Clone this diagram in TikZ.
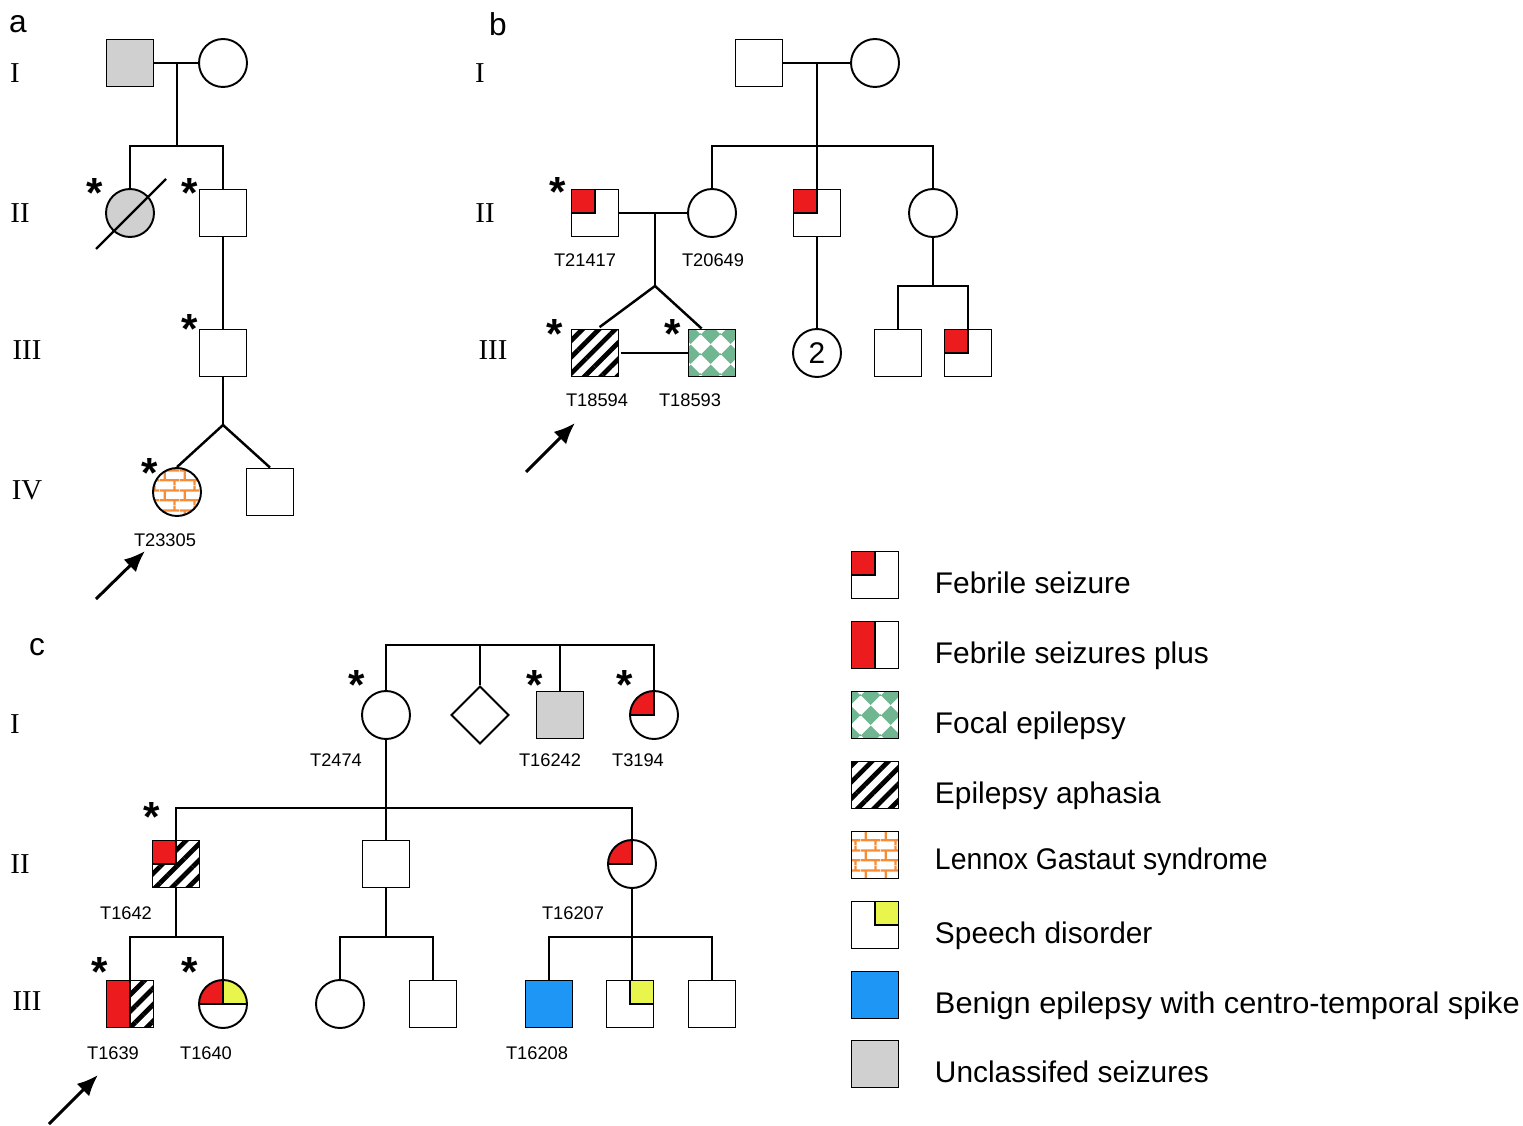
\documentclass[tikz,border=0pt]{standalone}
\usepackage{amsmath}
\usepackage{fontspec}
\setmainfont{Liberation Sans}
\newfontfamily\genfont{Liberation Serif}
\usetikzlibrary{arrows.meta,patterns,patterns.meta,shapes.geometric,calc}

\definecolor{fsred}{RGB}{236,28,30}
\definecolor{uncgrey}{RGB}{208,208,208}
\definecolor{becblue}{RGB}{30,150,245}
\definecolor{spyellow}{RGB}{232,245,76}
\definecolor{lgorange}{RGB}{247,140,55}
\definecolor{fegreen}{RGB}{112,182,144}

% orange brick wall (Lennox Gastaut)
\pgfdeclarepatternformonly{brickwall}{\pgfqpoint{0pt}{0pt}}{\pgfqpoint{11.4pt}{11.4pt}}{\pgfqpoint{11.4pt}{11.4pt}}{
  \pgfsetlinewidth{1.3pt}
  \pgfpathmoveto{\pgfqpoint{0pt}{2.85pt}}\pgfpathlineto{\pgfqpoint{11.4pt}{2.85pt}}
  \pgfpathmoveto{\pgfqpoint{0pt}{8.55pt}}\pgfpathlineto{\pgfqpoint{11.4pt}{8.55pt}}
  \pgfpathmoveto{\pgfqpoint{2.85pt}{2.85pt}}\pgfpathlineto{\pgfqpoint{2.85pt}{8.55pt}}
  \pgfpathmoveto{\pgfqpoint{8.55pt}{8.55pt}}\pgfpathlineto{\pgfqpoint{8.55pt}{11.4pt}}
  \pgfpathmoveto{\pgfqpoint{8.55pt}{0pt}}\pgfpathlineto{\pgfqpoint{8.55pt}{2.85pt}}
  \pgfusepath{stroke}
}
% green diamonds (focal epilepsy)
\pgfdeclarepatterninherentlycolored{diamondcheck}{\pgfpointorigin}{\pgfqpoint{11.4pt}{11.4pt}}{\pgfqpoint{11.4pt}{11.4pt}}{
  \pgfsetfillcolor{fegreen}
  \pgfpathmoveto{\pgfqpoint{5.7pt}{0pt}}
  \pgfpathlineto{\pgfqpoint{11.4pt}{5.7pt}}
  \pgfpathlineto{\pgfqpoint{5.7pt}{11.4pt}}
  \pgfpathlineto{\pgfqpoint{0pt}{5.7pt}}
  \pgfpathclose
  \pgfusepath{fill}
}

\tikzset{
  ped/.style={draw,line width=1.1pt,inner sep=0pt,fill=white},
  male/.style={ped,rectangle,minimum size=0.94cm},
  female/.style={ped,circle,minimum size=0.96cm},
  unknown/.style={ped,diamond,aspect=1,minimum width=1.16cm,minimum height=1.16cm},
  hatch/.style={pattern={Lines[angle=45,distance=6.6pt,line width=2.7pt]}},
  bricks/.style={pattern=brickwall,pattern color=lgorange},
  focal/.style={pattern=diamondcheck},
  fsq/.style={path picture={\draw[fill=fsred,line width=1.1pt] (path picture bounding box.north west) rectangle (path picture bounding box.center);}},
  fsp/.style={path picture={\draw[fill=fsred,line width=1.1pt] (path picture bounding box.north west) rectangle (path picture bounding box.south);}},
  spq/.style={path picture={\draw[fill=spyellow,line width=1.1pt] (path picture bounding box.north east) rectangle (path picture bounding box.center);}},
  fssp/.style={path picture={\draw[fill=fsred,line width=1.1pt] (path picture bounding box.north west) rectangle (path picture bounding box.center);
    \draw[fill=spyellow,line width=1.1pt] (path picture bounding box.north east) rectangle (path picture bounding box.center);}},
  tested/.style={inner sep=0pt,anchor=base,font=\bfseries\fontsize{24}{24}\selectfont},
  idlabel/.style={inner sep=0pt,font=\fontsize{10.4}{12}\selectfont},
  gen/.style={inner sep=0pt,font=\genfont\fontsize{16.4}{18}\selectfont},
  panel/.style={inner sep=0pt,font=\fontsize{18}{20}\selectfont},
  legtext/.style={inner sep=0pt,anchor=base west,font=\fontsize{17}{20}\selectfont},
  proband/.style={line width=1.7pt,-{Latex[length=12pt,width=10pt]}},
}

\begin{document}
\begin{tikzpicture}[x=0.02cm,y=-0.02cm,line width=1.1pt]
\useasboundingbox (0,0) rectangle (1523,1125);

%% panel a
\node[panel] (pa) at (18,24) {a};
\node[gen] (ga1) at (15,73) {I};
\node[gen] (ga2) at (20,213) {II};
\node[gen] (ga3) at (27,350) {III};
\node[gen] (ga4) at (27,490) {IV};

\node[male,fill=uncgrey] (a1) at (130,63) {};
\node[female] (a2) at (223,63) {};
\coordinate (a12) at (177,63);
\coordinate (a12s) at (177,146);
\draw (a1) -- (a2);
\draw (a12) -- (a12s);

\node[female,fill=uncgrey] (a3) at (130,213) {};
\draw[line width=1.3pt] ($(a3)+(-34,36)$) -- ($(a3)+(36,-34)$);
\node[male] (a4) at (223,213) {};
\draw (a3.north) |- (a12s) -| (a4.north);

\node[male] (a5) at (223,353) {};
\draw (a4) -- (a5);
\coordinate (a5t) at (223,425);
\draw (a5) -- (a5t);
\node[female,bricks] (a6) at (177,492) {};
\node[male] (a7) at (270,492) {};
\draw[line width=1.4pt] (a6.north) -- (a5t) -- (a7.north);

\node[tested] (sa3) at (95,208) {*};
\node[tested] (sa4) at (190,208) {*};
\node[tested] (sa5) at (190,343) {*};
\node[tested] (sa6) at (150,487) {*};
\node[idlabel] (la6) at (165,540) {T23305};
\coordinate (pra0) at (96,599);
\coordinate (pra1) at (145,551);
\draw[proband] (pra0) -- (pra1);

%% panel b
\node[panel] (pb) at (498,24) {b};
\node[gen] (gb1) at (480,73) {I};
\node[gen] (gb2) at (485,213) {II};
\node[gen] (gb3) at (493,350) {III};

\node[male] (b1) at (759,63) {};
\node[female] (b2) at (875,63) {};
\coordinate (b12) at (817,63);
\coordinate (b12s) at (817,146);
\draw (b1) -- (b2);

\node[male,fsq] (b3) at (595,213) {};
\node[female] (b4) at (712,213) {};
\node[male,fsq] (b7) at (817,213) {};
\node[female] (b8) at (933,213) {};
\draw (b12) -- (b7);
\draw (b4.north) |- (b12s) -| (b8.north);

\draw (b3) -- (b4);
\coordinate (b34) at (655,213);
\coordinate (b34t) at (655,286);
\draw (b34) -- (b34t);
\node[male,hatch] (b5) at (595,353) {};
\node[male,focal] (b6) at (712,353) {};
\draw[line width=1.4pt] (b5.80) -- (b34t) -- (b6.113);
\draw (b5) -- (b6);

\node[female,font=\fontsize{17}{17}\selectfont] (b9) at (817,353) {2};
\draw (b7) -- (b9);

\coordinate (b8s) at (933,286);
\draw (b8) -- (b8s);
\node[male] (b10) at (898,353) {};
\node[male,fsq] (b11) at (968,353) {};
\draw (b10.north) |- (b8s) -| (b11.north);

\node[tested] (sb3) at (558,207) {*};
\node[tested] (sb5) at (555,348) {*};
\node[tested] (sb6) at (673,348) {*};
\node[idlabel] (lb3) at (585,260) {T21417};
\node[idlabel] (lb4) at (713,260) {T20649};
\node[idlabel] (lb5) at (597,400) {T18594};
\node[idlabel] (lb6) at (690,400) {T18593};
\coordinate (prb0) at (526,472);
\coordinate (prb1) at (575,423);
\draw[proband] (prb0) -- (prb1);

%% panel c
\node[panel] (pc) at (37,647) {c};
\node[gen] (gc1) at (15,724) {I};
\node[gen] (gc2) at (20,864) {II};
\node[gen] (gc3) at (27,1001) {III};

\node[female] (c1) at (386,715) {};
\node[unknown] (c2) at (480,715) {};
\node[male,fill=uncgrey] (c3) at (560,715) {};
\node[female,fsq] (c4) at (654,715) {};
\coordinate (ctop) at (520,645);
\draw (c1.north) |- (ctop) -| (c4.north);
\draw (c2.north) -- (c2.north |- ctop);
\draw (c3.north) -- (c3.north |- ctop);

\node[male,hatch,fsq] (c5) at (176,864) {};
\node[male] (c6) at (386,864) {};
\node[female,fsq] (c7) at (632,864) {};
\coordinate (c1s) at (386,808);
\draw (c1) -- (c6);
\draw (c5.north) |- (c1s) -| (c7.north);

\node[male,hatch,fsp] (c8) at (130,1004) {};
\node[female,fssp] (c9) at (223,1004) {};
\coordinate (c5s) at (176,937);
\draw (c5) -- (c5s);
\draw (c8.north) |- (c5s) -| (c9.north);

\node[female] (c10) at (340,1004) {};
\node[male] (c11) at (433,1004) {};
\coordinate (c6s) at (386,937);
\draw (c6) -- (c6s);
\draw (c10.north) |- (c6s) -| (c11.north);

\node[male,fill=becblue] (c12) at (549,1004) {};
\node[male,spq] (c13) at (630,1004) {};
\node[male] (c14) at (712,1004) {};
\coordinate (c7s) at (632,937);
\draw (c7) -- (c7s);
\draw (c7s) -- (c7s |- c13.north);
\draw (c12.north) |- (c7s) -| (c14.north);

\node[tested] (sc1) at (357,699) {*};
\node[tested] (sc3) at (535,699) {*};
\node[tested] (sc4) at (625,699) {*};
\node[tested] (sc5) at (152,831) {*};
\node[tested] (sc8) at (100,986) {*};
\node[tested] (sc9) at (190,986) {*};
\node[idlabel] (lc1) at (336,760) {T2474};
\node[idlabel] (lc3) at (550,760) {T16242};
\node[idlabel] (lc4) at (638,760) {T3194};
\node[idlabel] (lc5) at (126,913) {T1642};
\node[idlabel] (lc7) at (573,913) {T16207};
\node[idlabel] (lc8) at (113,1053) {T1639};
\node[idlabel] (lc9) at (206,1053) {T1640};
\node[idlabel] (lc12) at (537,1053) {T16208};
\coordinate (prc0) at (49,1124);
\coordinate (prc1) at (98,1075);
\draw[proband] (prc0) -- (prc1);

%% legend
\node[male,fsq] (k1) at (875,575) {};
\node[male,fsp] (k2) at (875,645) {};
\node[male,focal] (k3) at (875,715) {};
\node[male,hatch] (k4) at (875,785) {};
\node[male,bricks] (k5) at (875,855) {};
\node[male,spq] (k6) at (875,925) {};
\node[male,fill=becblue] (k7) at (875,995) {};
\node[male,fill=uncgrey] (k8) at (875,1064) {};
\node[legtext] (t1) at (934,593) {Febrile seizure};
\node[legtext] (t2) at (934,663) {Febrile seizures plus};
\node[legtext] (t3) at (934,733) {Focal epilepsy};
\node[legtext] (t4) at (934,803) {Epilepsy aphasia};
\node[legtext] (t5) at (934,869) {\scalebox{0.95}[1]{Lennox Gastaut syndrome}};
\node[legtext] (t6) at (934,943) {Speech disorder};
\node[legtext] (t7) at (934,1013) {\scalebox{1.03}[1]{Benign epilepsy with centro-temporal spike}};
\node[legtext] (t8) at (934,1082) {Unclassifed seizures};
\end{tikzpicture}
\end{document}
